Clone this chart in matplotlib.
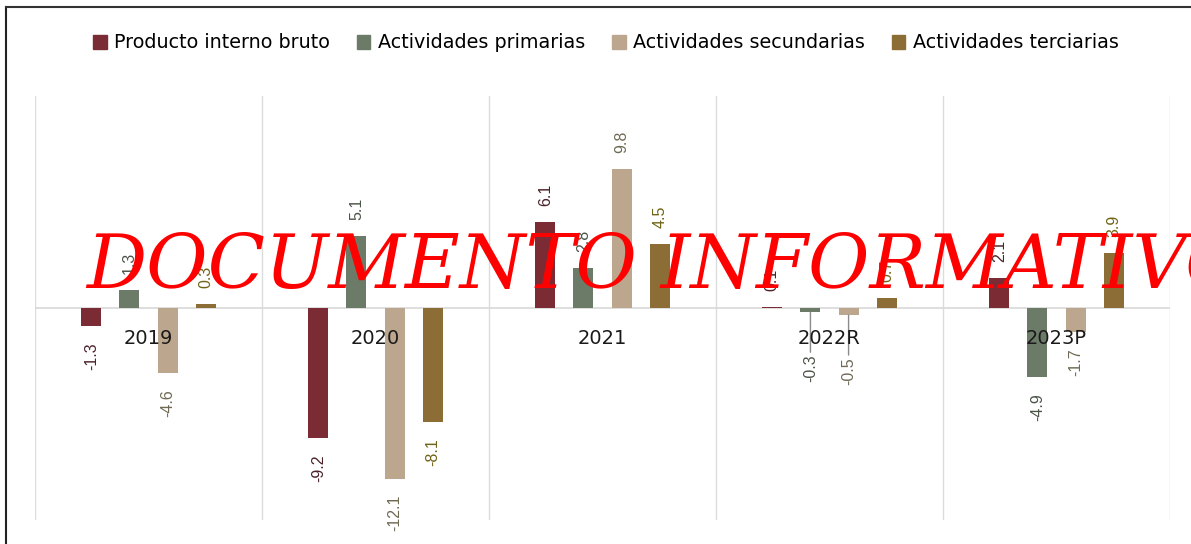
import numpy as np
import matplotlib
matplotlib.use('Agg')
import matplotlib.pyplot as plt
from matplotlib.lines import Line2D

# data (variacion anual, %)
years = ['2019', '2020', '2021', '2022R', '2023P']
series = ['Producto interno bruto', 'Actividades primarias',
          'Actividades secundarias', 'Actividades terciarias']
pib = [-1.3, -9.2, 6.1, 0.1, 2.1]
primarias = [1.3, 5.1, 2.8, -0.3, -4.9]
secundarias = [-4.6, -12.1, 9.8, -0.5, -1.7]
terciarias = [0.3, -8.1, 4.5, 0.7, 3.9]

bar_colors = ['#7A2B34', '#6C7B67', '#BCA68D', '#8C6D36']
label_colors = ['#4A2228', '#4B5448', '#706A55', '#6F6415']

fig = plt.figure(figsize=(11.91, 5.44), dpi=100)
ax = fig.add_axes([35 / 1191, 1 - 520 / 544, 1135 / 1191, 424 / 544])

x = np.arange(len(years))
step = 0.168
width = 0.088

for k, vals in enumerate([pib, primarias, secundarias, terciarias]):
    pos = x + (k - 1.5) * step
    ax.bar(pos, vals, width, color=bar_colors[k], edgecolor='none', zorder=3)
    for px, v in zip(pos, vals):
        off = 16
        if v < 0 and abs(v) < 1:
            off = 42
            ax.annotate('', xy=(px, v), xytext=(0, -(off - 2)),
                        textcoords='offset pixels',
                        arrowprops=dict(arrowstyle='-', color='#8A8A8A', lw=1.0,
                                        shrinkA=0, shrinkB=0), zorder=4)
        ax.annotate(f'{v:.1f}', xy=(px, v), xytext=(0, off if v >= 0 else -off),
                    textcoords='offset pixels', rotation=90,
                    ha='center', va='bottom' if v >= 0 else 'top',
                    fontsize=11.5, family='Liberation Sans',
                    color=label_colors[k], zorder=5)

# category labels under the zero line
for i, y in enumerate(years):
    ax.annotate(y, xy=(i, 0), xytext=(0, -31), textcoords='offset pixels',
                ha='center', va='center', fontsize=14, family='DejaVu Sans',
                color='#1A1A1A', zorder=6)

ax.set_xlim(-0.5, 4.5)
ax.set_ylim(-15, 15)
for b in np.arange(-0.5, 5.0, 1.0):
    ax.axvline(b, color='#DCDCDC', lw=1.0, zorder=1)
ax.axhline(0, color='#D8D8D8', lw=1.2, zorder=2)
ax.set_xticks([])
ax.set_yticks([])
for s in ax.spines.values():
    s.set_visible(False)

handles = [plt.Rectangle((0, 0), 1, 1, color=c) for c in bar_colors]
fig.legend(handles, series, loc='center', bbox_to_anchor=(606 / 1191, 1 - 43 / 544),
           ncol=4, frameon=False, prop={'family': 'DejaVu Sans', 'size': 13.8},
           handlelength=0.7, handleheight=0.8, handletextpad=0.4,
           columnspacing=1.4)

# scan border (left and top)
fig.add_artist(Line2D([6 / 1191, 6 / 1191], [0, 1 - 7 / 544], color='#222222', lw=1.5))
fig.add_artist(Line2D([6 / 1191, 1], [1 - 7 / 544, 1 - 7 / 544], color='#333333', lw=1.5))

# watermark
fig.text(86 / 1191, 1 - 288 / 544, 'DOCUMENTO INFORMATIVO', color='#FF0000',
         fontsize=54, family='DejaVu Serif', style='italic',
         ha='left', va='baseline', zorder=10)

fig.savefig('out.png', dpi=100, facecolor='white')
